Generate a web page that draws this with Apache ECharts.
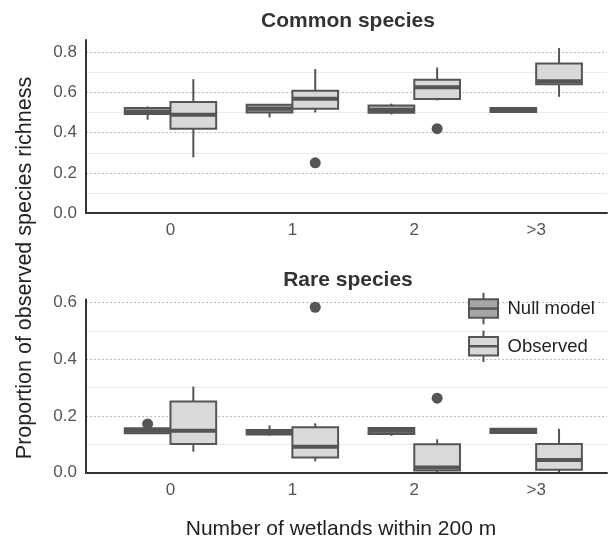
<!DOCTYPE html>
<html><head><meta charset="utf-8">
<script src="https://cdn.jsdelivr.net/npm/echarts@6/dist/echarts.min.js"></script>
<style>html,body{margin:0;padding:0;background:#fff}#c{width:610px;height:540px}</style>
</head><body><div id="c"></div><script>
// ---------- data ----------
const categories = ['0', '1', '2', '>3'];
const groupNames = ['Null model', 'Observed'];
const panelTitles = ['Common species', 'Rare species'];
const yTicks = [[0, 0.2, 0.4, 0.6, 0.8], [0, 0.2, 0.4, 0.6]];
// each row: [min, q1, median, q3, max] per category
const commonNull = [[0.465, 0.493, 0.505, 0.523, 0.531], [0.476, 0.501, 0.519, 0.539, 0.539], [0.491, 0.500, 0.513, 0.536, 0.545], [0.500, 0.503, 0.513, 0.523, 0.523]];
const commonObs  = [[0.277, 0.420, 0.490, 0.553, 0.667], [0.501, 0.519, 0.569, 0.609, 0.717], [0.561, 0.568, 0.626, 0.664, 0.725], [0.579, 0.641, 0.656, 0.745, 0.822]];
const rareNull   = [[0.137, 0.139, 0.148, 0.157, 0.158], [0.131, 0.135, 0.143, 0.151, 0.167], [0.130, 0.137, 0.148, 0.158, 0.158], [0.140, 0.140, 0.148, 0.155, 0.157]];
const rareObs    = [[0.074, 0.101, 0.148, 0.251, 0.304], [0.040, 0.054, 0.092, 0.160, 0.174], [0.000, 0.008, 0.018, 0.100, 0.118], [0.002, 0.010, 0.045, 0.101, 0.155]];
// outliers: [category index, group index, value]
const commonOutliers = [[1, 1, 0.25], [2, 1, 0.42]];
const rareOutliers = [[0, 0, 0.172], [1, 1, 0.584], [2, 1, 0.263]];

// ---------- styling ----------
const FONT = '"Liberation Sans", Arial, Helvetica, sans-serif';
const STROKE = '#555555';
const FILLS = ['#a6a6a6', '#d9d9d9'];
const DODGE = 0.1875; // half of 0.75 dodge width
const X_MIN = -0.693, X_MAX = 3.581;
const Y_MAX = [0.862, 0.6114];

function boxData(rows, g) {
  return rows.map((r, i) => [i + (g === 0 ? -DODGE : DODGE)].concat(r));
}
function outlierData(list) {
  return list.map(o => [o[0] + (o[1] === 0 ? -DODGE : DODGE), o[2]]);
}
function renderBox(fill) {
  return function (params, api) {
    const x = api.value(0);
    const hw = api.size([DODGE, 0])[0];
    const pMin = api.coord([x, api.value(1)]);
    const pQ1 = api.coord([x, api.value(2)]);
    const pMed = api.coord([x, api.value(3)]);
    const pQ3 = api.coord([x, api.value(4)]);
    const pMax = api.coord([x, api.value(5)]);
    const cx = pMin[0];
    return {
      type: 'group',
      children: [
        { type: 'line', shape: { x1: cx, y1: pQ3[1], x2: cx, y2: pMax[1] }, style: { stroke: STROKE, lineWidth: 2 } },
        { type: 'line', shape: { x1: cx, y1: pQ1[1], x2: cx, y2: pMin[1] }, style: { stroke: STROKE, lineWidth: 2 } },
        { type: 'rect', shape: { x: cx - hw, y: pQ3[1], width: 2 * hw, height: pQ1[1] - pQ3[1] }, style: { fill: fill, stroke: STROKE, lineWidth: 2 } },
        { type: 'line', shape: { x1: cx - hw, y1: pMed[1], x2: cx + hw, y2: pMed[1] }, style: { stroke: STROKE, lineWidth: 4 } }
      ]
    };
  };
}

const grids = [
  { left: 86, top: 40, right: 0, height: 173 },
  { left: 86, top: 299.5, right: 0, height: 173.2 }
];
const xAxes = [], yAxes = [], series = [];
[0, 1].forEach(p => {
  xAxes.push({
    type: 'value', gridIndex: p, min: X_MIN, max: X_MAX,
    axisLine: { show: true, onZero: false, lineStyle: { color: '#333', width: 2 } },
    axisTick: { show: false }, splitLine: { show: false },
    axisLabel: {
      color: '#555', fontSize: 17, fontFamily: FONT, margin: 9,
      formatter: v => (Math.abs(v - Math.round(v)) < 1e-6 && v >= 0 && v <= 3) ? categories[Math.round(v)] : ''
    },
    z: 10
  });
  // labelled axis with dotted major lines
  yAxes.push({
    type: 'value', gridIndex: p, min: 0, max: Y_MAX[p], interval: 0.2,
    axisLine: { show: true, onZero: false, lineStyle: { color: '#333', width: 2 } },
    axisTick: { show: false },
    axisLabel: {
      color: '#555', fontSize: 17, fontFamily: FONT, margin: 9, showMaxLabel: false,
      formatter: v => yTicks[p].some(t => Math.abs(t - v) < 1e-6) ? v.toFixed(1) : ''
    },
    splitLine: { show: true, showMinLine: false, showMaxLine: false, lineStyle: { color: '#bdbdbd', type: [2, 2], width: 1 } },
    z: 3
  });
  // hidden axis for minor solid lines
  yAxes.push({
    type: 'value', gridIndex: p, min: 0, max: Y_MAX[p], interval: 0.1, position: 'left',
    axisLine: { show: false, onZero: false }, axisTick: { show: false }, axisLabel: { show: false },
    splitLine: { show: true, showMaxLine: false, lineStyle: { color: ['rgba(0,0,0,0)', '#ebebeb'], width: 1.2 } },
    z: 1
  });
});

const panels = [[commonNull, commonObs, commonOutliers], [rareNull, rareObs, rareOutliers]];
panels.forEach((pd, p) => {
  [0, 1].forEach(g => {
    series.push({
      type: 'custom', name: groupNames[g], xAxisIndex: p, yAxisIndex: p * 2,
      renderItem: renderBox(FILLS[g]), data: boxData(pd[g], g),
      encode: { x: 0, y: [1, 2, 3, 4, 5] }, z: 5, silent: true
    });
  });
  series.push({
    type: 'scatter', xAxisIndex: p, yAxisIndex: p * 2, data: outlierData(pd[2]),
    symbolSize: 11, itemStyle: { color: STROKE, opacity: 1 }, z: 6, silent: true
  });
});

function legendKey(y0, fill) {
  const cx = 483.5, x0 = 469, w = 29, h = 18.5;
  return [
    { type: 'line', shape: { x1: cx, y1: y0 - 6.5, x2: cx, y2: y0 + h + 6.5 }, style: { stroke: STROKE, lineWidth: 2 }, z: 100 },
    { type: 'rect', shape: { x: x0, y: y0, width: w, height: h }, style: { fill: fill, stroke: STROKE, lineWidth: 2 }, z: 101 },
    { type: 'line', shape: { x1: x0, y1: y0 + h / 2, x2: x0 + w, y2: y0 + h / 2 }, style: { stroke: STROKE, lineWidth: 2.5 }, z: 102 }
  ];
}

const graphics = [
  { type: 'text', x: 348, y: 21, style: { text: panelTitles[0], font: 'bold 21px ' + FONT, fill: '#333', align: 'center', verticalAlign: 'middle' } },
  { type: 'text', x: 348, y: 280.5, style: { text: panelTitles[1], font: 'bold 21px ' + FONT, fill: '#333', align: 'center', verticalAlign: 'middle' } },
  { type: 'text', x: 341, y: 529, style: { text: 'Number of wetlands within 200 m', font: '21px ' + FONT, fill: '#222', align: 'center', verticalAlign: 'middle' } },
  { type: 'text', x: 25, y: 268, rotation: Math.PI / 2, style: { text: 'Proportion of observed species richness', font: '21.5px ' + FONT, fill: '#222', align: 'center', verticalAlign: 'middle' } },
  ...legendKey(299.3, FILLS[0]),
  ...legendKey(337, FILLS[1]),
  { type: 'text', x: 507.5, y: 308.5, style: { text: groupNames[0], font: '18.5px ' + FONT, fill: '#222', align: 'left', verticalAlign: 'middle' }, z: 100 },
  { type: 'text', x: 507.5, y: 346.5, style: { text: groupNames[1], font: '18.5px ' + FONT, fill: '#222', align: 'left', verticalAlign: 'middle' }, z: 100 }
];

const chart = echarts.init(document.getElementById('c'), null, { renderer: 'canvas' });
chart.setOption({
  animation: false,
  backgroundColor: '#ffffff',
  grid: grids,
  xAxis: xAxes,
  yAxis: yAxes,
  series: series,
  graphic: graphics
});
</script></body></html>
